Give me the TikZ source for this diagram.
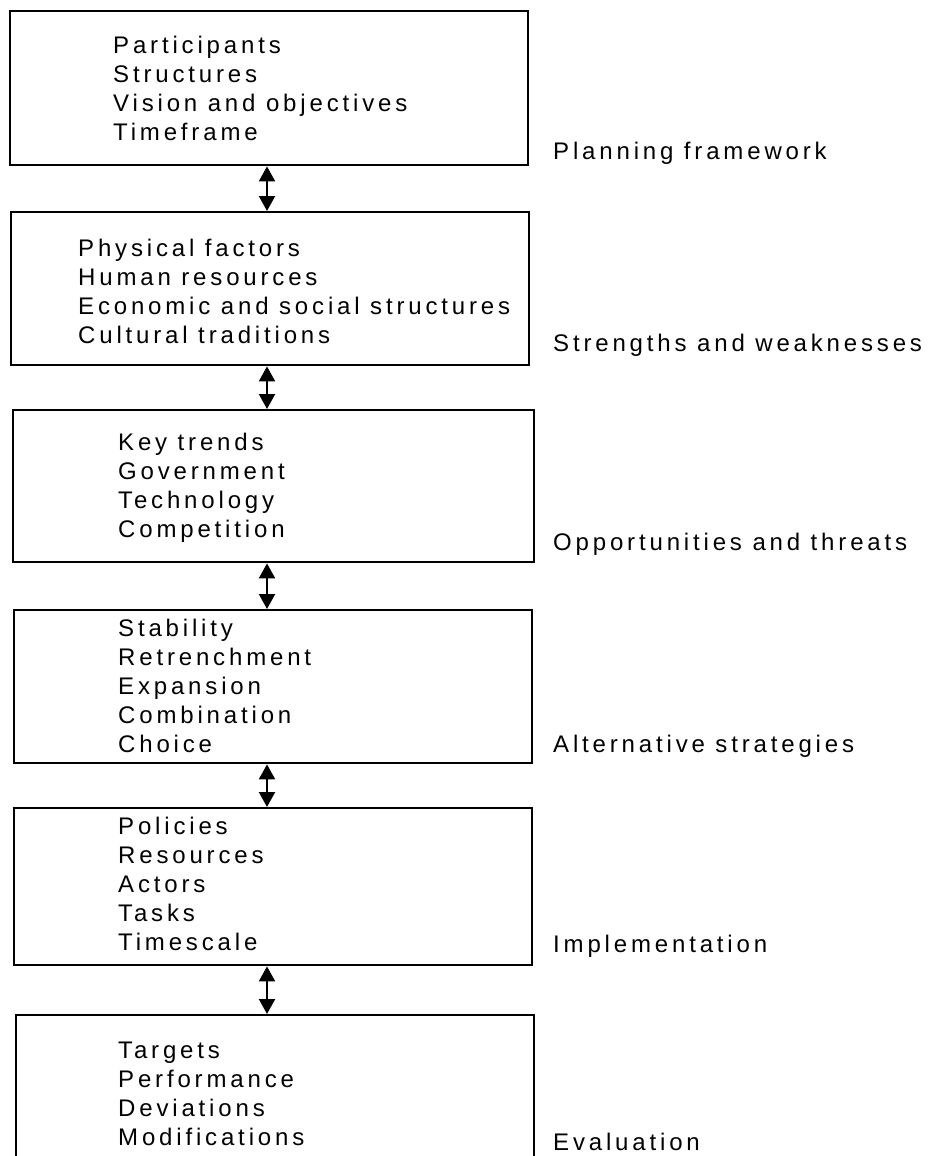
\documentclass[tikz,border=0pt]{standalone}
\usepackage{fontspec}
\setmainfont{Liberation Sans}
\newfontfamily\itemfont[LetterSpace=16]{Liberation Sans}
\usetikzlibrary{arrows.meta}
\begin{document}
\begin{tikzpicture}[x=1pt,y=-1pt,
  panel/.style={draw=black, line width=2.4pt, anchor=north west, inner sep=0pt},
  items/.style={anchor=north west, inner sep=0pt, align=left,
    font={\itemfont\fontsize{24}{29}\selectfont}},
  stage/.style={anchor=base west, inner sep=0pt,
    font={\itemfont\fontsize{24}{29}\selectfont}},
  link/.style={line width=2.2pt, {Triangle[width=16pt,length=15pt]}-{Triangle[width=16pt,length=15pt]}}]
\useasboundingbox (0,0) rectangle (936,1156);
\fill[white] (0,0) rectangle (936,1156);
% the six stage boxes
\node[panel, minimum width=518pt, minimum height=154pt] (b1) at (9,10) {};
\node[panel, minimum width=518pt, minimum height=153pt] (b2) at (10,211) {};
\node[panel, minimum width=521pt, minimum height=152pt] (b3) at (12,409) {};
\node[panel, minimum width=518pt, minimum height=153pt] (b4) at (13,609) {};
\node[panel, minimum width=518pt, minimum height=157pt] (b5) at (13,807) {};
\node[panel, minimum width=518pt, minimum height=170pt] (b6) at (15,1014) {};
% box contents
\node[items] (t1) at (113,36) {Participants\\Structures\\Vision and objectives\\Timeframe};
\node[items] (t2) at (78,239) {Physical factors\\Human resources\\Economic and social structures\\Cultural traditions};
\node[items] (t3) at (118,433) {Key trends\\Government\\Technology\\Competition};
\node[items] (t4) at (118,619) {Stability\\Retrenchment\\Expansion\\Combination\\Choice};
\node[items] (t5) at (118,817) {Policies\\Resources\\Actors\\Tasks\\Timescale};
\node[items] (t6) at (118,1042) {Targets\\Performance\\Deviations\\Modifications};
% stage names
\node[stage] (s1) at (553,159) {Planning framework};
\node[stage] (s2) at (553,351) {Strengths and weaknesses};
\node[stage] (s3) at (553,550) {Opportunities and threats};
\node[stage] (s4) at (553,752) {Alternative strategies};
\node[stage] (s5) at (553,952) {Implementation};
\node[stage] (s6) at (553,1150) {Evaluation};
% two-way links between consecutive stages
\coordinate (ax) at (267,0);
\draw[link] (b1.south -| ax) -- (b2.north -| ax);
\draw[link] (b2.south -| ax) -- (b3.north -| ax);
\draw[link] (b3.south -| ax) -- (b4.north -| ax);
\draw[link] (b4.south -| ax) -- (b5.north -| ax);
\draw[link] (b5.south -| ax) -- (b6.north -| ax);
\end{tikzpicture}
\end{document}
